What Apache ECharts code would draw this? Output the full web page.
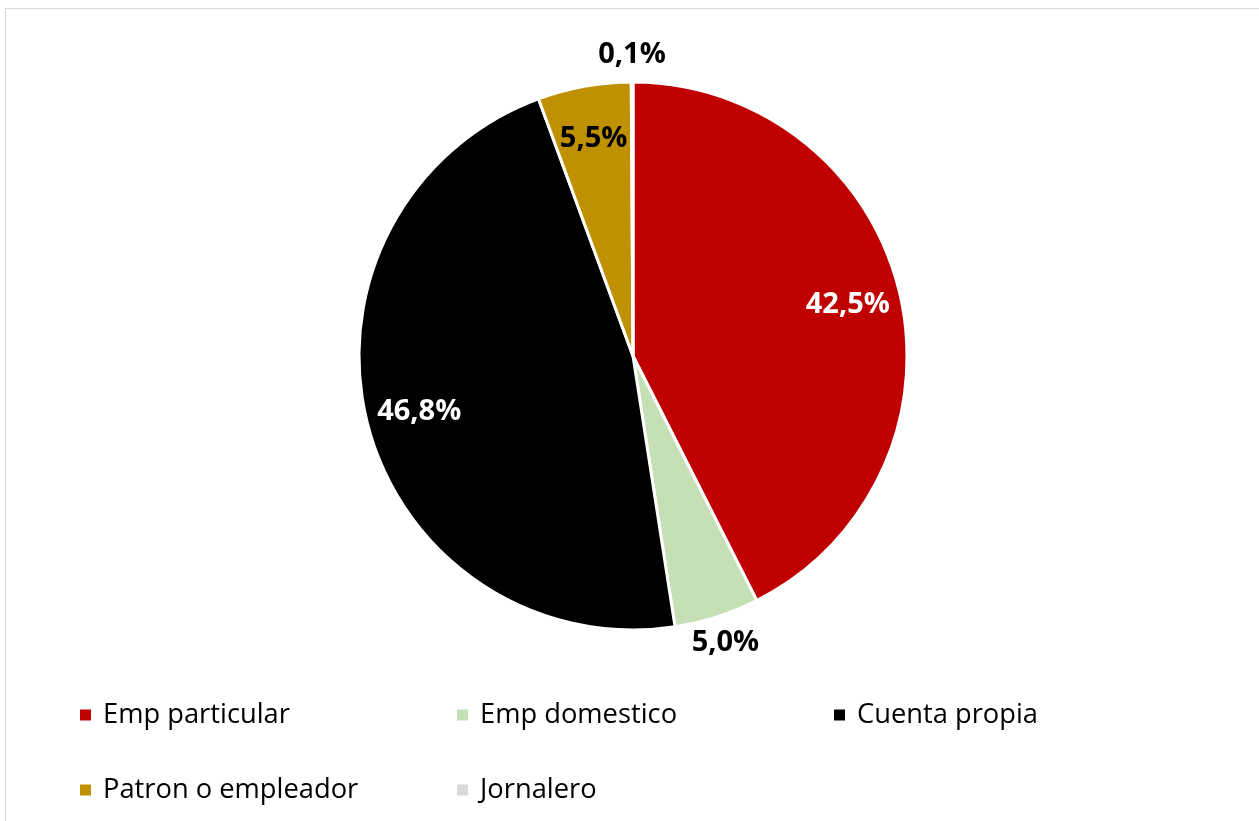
<!DOCTYPE html>
<html><head><meta charset="utf-8">
<script src="https://cdn.jsdelivr.net/npm/echarts@6/dist/echarts.min.js"></script>
<style>
html,body{margin:0;padding:0;background:#fff;}
#frame{position:absolute;left:5px;top:8px;width:1270px;height:830px;border:1.5px solid #d9d9d9;box-sizing:border-box;}
#c{position:absolute;left:0;top:0;width:1259px;height:821px;}
</style></head>
<body>
<div id="frame"></div>
<div id="c"></div>
<script>
const categories = ['Emp particular','Emp domestico','Cuenta propia','Patron o empleador','Jornalero'];
const values = [42.5, 5.0, 46.8, 5.5, 0.1];
const colors = ['#c00000','#c5e0b4','#000000','#bf9000','#d9d9d9'];
const insideLabel = [true, false, true, true, false];
const insideLabelColor = ['#ffffff', '#000000', '#ffffff', '#000000', '#000000'];

const fmt = v => v.toFixed(1).replace('.', ',') + '%';
const center = [633, 356];
const R = 274;
const labelFont = {fontFamily:'Open Sans', fontWeight:'bold', fontSize:29};
const legendText = {fontFamily:'Open Sans', fontSize:27.3, color:'#000', lineHeight:28, padding:[0,0,0,6]};
const legendBase = {top:701, orient:'vertical', itemGap:47, itemWidth:13, itemHeight:13, icon:'rect', padding:0, textStyle:legendText};

const chart = echarts.init(document.getElementById('c'));
chart.setOption({
  animation:false,
  legend:[
    {...legendBase, left:78, data:[categories[0], categories[3]]},
    {...legendBase, left:455, data:[categories[1], categories[4]]},
    {...legendBase, left:832, data:[categories[2]]}
  ],
  series:[
    {
      type:'pie', center:center, radius:[0,R], startAngle:90, clockwise:true,
      avoidLabelOverlap:false, label:{show:false}, labelLine:{show:false},
      itemStyle:{borderColor:'#fff', borderWidth:3},
      emphasis:{disabled:true},
      data: categories.map((n,i)=>({name:n, value:values[i], itemStyle:{color:colors[i]}}))
    },
    {
      type:'pie', center:center, radius:[R*0.59, R], startAngle:90, clockwise:true, silent:true,
      avoidLabelOverlap:false, labelLine:{show:false}, legendHoverLink:false,
      itemStyle:{color:'transparent', borderWidth:0},
      emphasis:{disabled:true},
      data: categories.map((n,i)=>({name:n+' ', value:values[i],
        label:{show:insideLabel[i], position:'inside', formatter:()=>fmt(values[i]), color:insideLabelColor[i], ...labelFont}}))
    },
    {
      type:'pie', center:center, radius:[R, R*1.18], startAngle:90, clockwise:true, silent:true,
      avoidLabelOverlap:false, labelLine:{show:false}, legendHoverLink:false,
      itemStyle:{color:'transparent', borderWidth:0},
      emphasis:{disabled:true},
      data: categories.map((n,i)=>({name:n+'  ', value:values[i],
        label:{show:!insideLabel[i], position:'inside', formatter:()=>fmt(values[i]), color:'#000', ...labelFont}}))
    }
  ]
});
</script>
</body></html>
